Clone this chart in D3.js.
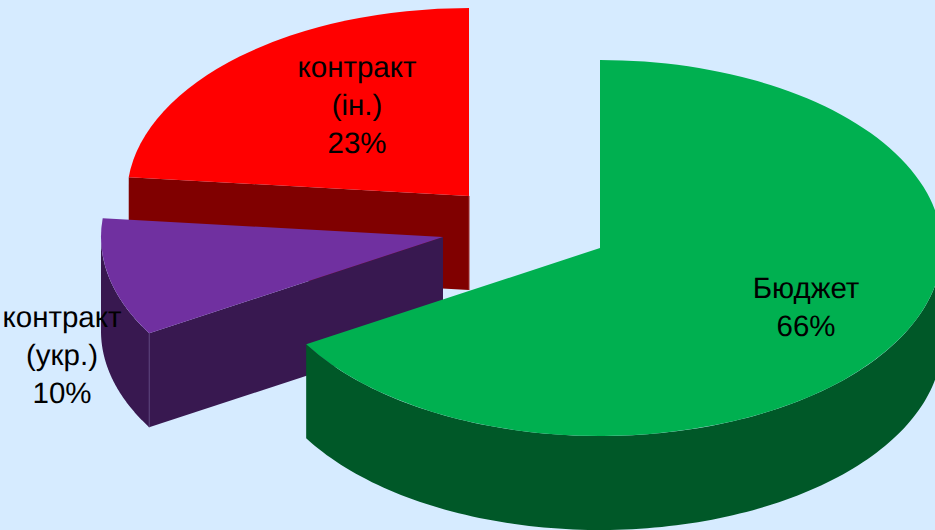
<!DOCTYPE html>
<html><head><meta charset="utf-8">
<script src="https://cdn.jsdelivr.net/npm/d3@7"></script>
<style>html,body{margin:0;padding:0;background:#D6EBFF;overflow:hidden}svg{display:block}</style>
</head><body><svg id="c" width="935" height="530"></svg>
<script>
const categories = ["Бюджет", "контракт (укр.)", "контракт (ін.)"];
const labelLines = [["Бюджет"], ["контракт", "(укр.)"], ["контракт", "(ін.)"]];
const shares = [66.45, 10.15, 23.4];
const topColors = ["#00B050", "#7030A0", "#FF0000"];
const sideColors = ["#005828", "#381850", "#800000"];
const seamColors = ["#006830", "#5A3F78", "#A03030"];

const W = 935, H = 530, rx = 342, ry = 188, depth = 94;
const centers = [[600, 248], [443, 237], [469, 196]];
const labelAnchors = [[806, 298], [62, 327], [357, 77]];
const lineGap = 38;

const svg = d3.select("#c");
svg.append("rect").attr("width", W).attr("height", H).attr("fill", "#D6EBFF");

const arcs = d3.pie().sort(null).value(d => d)(shares);
const unitArc = d3.arc().innerRadius(0).outerRadius(1);
const line = d3.line();
const pt = (c, a, dz = 0) => [c[0] + rx * Math.sin(a), c[1] - ry * Math.cos(a) + dz];
const sweep = (a0, a1) => d3.range(0, 121).map(i => a0 + (a1 - a0) * i / 120);

const wall = (c, a0, a1) => {
  const s = sweep(a0, a1);
  return line(s.map(a => pt(c, a)).concat(s.slice().reverse().map(a => pt(c, a, depth)))) + "Z";
};
const cut = (c, a) => line([c, pt(c, a), pt(c, a, depth), [c[0], c[1] + depth]]) + "Z";

// painted back to front
[2, 1, 0].forEach(i => {
  const d = arcs[i], c = centers[i], g = svg.append("g");
  const a0 = d.startAngle, a1 = d.endAngle;
  const P = Math.PI;
  // cut faces that turn toward the viewer
  if (i === 2) g.append("path").attr("d", cut(c, a0)).attr("fill", sideColors[i]);
  if (i === 1) g.append("path").attr("d", cut(c, a0)).attr("fill", sideColors[i]);
  // outer wall: only the part in front of the horizontal diameter
  const wa0 = Math.max(a0, P / 2), wa1 = Math.min(a1, 3 * P / 2);
  if (wa1 > wa0) g.append("path").attr("d", wall(c, wa0, wa1)).attr("fill", sideColors[i]);
  // seam
  if (i === 1) {
    const p = pt(c, a0);
    g.append("path").attr("d", line([p, [p[0], p[1] + depth]]))
      .attr("stroke", seamColors[i]).attr("stroke-width", 1).attr("fill", "none");
  }
  if (i === 2) {
    g.append("path").attr("d", line([[c[0], c[1]], [c[0], c[1] + depth]]))
      .attr("stroke", seamColors[i]).attr("stroke-width", 1).attr("fill", "none");
  }
  g.append("path")
    .attr("d", unitArc({startAngle: a0, endAngle: a1}))
    .attr("transform", `translate(${c[0]},${c[1]}) scale(${rx},${ry})`)
    .attr("fill", topColors[i]);
});

// labels last
shares.forEach((v, i) => {
  const lines = labelLines[i].concat([Math.round(v) + "%"]);
  const t = svg.append("text")
    .attr("font-family", "'Liberation Sans', Arial, sans-serif")
    .attr("font-size", 29.5).attr("fill", "#000").attr("text-anchor", "middle")
    .attr("text-rendering", "geometricPrecision");
  lines.forEach((s, j) => t.append("tspan")
    .attr("x", labelAnchors[i][0]).attr("y", labelAnchors[i][1] + j * lineGap).text(s));
});
</script></body></html>
